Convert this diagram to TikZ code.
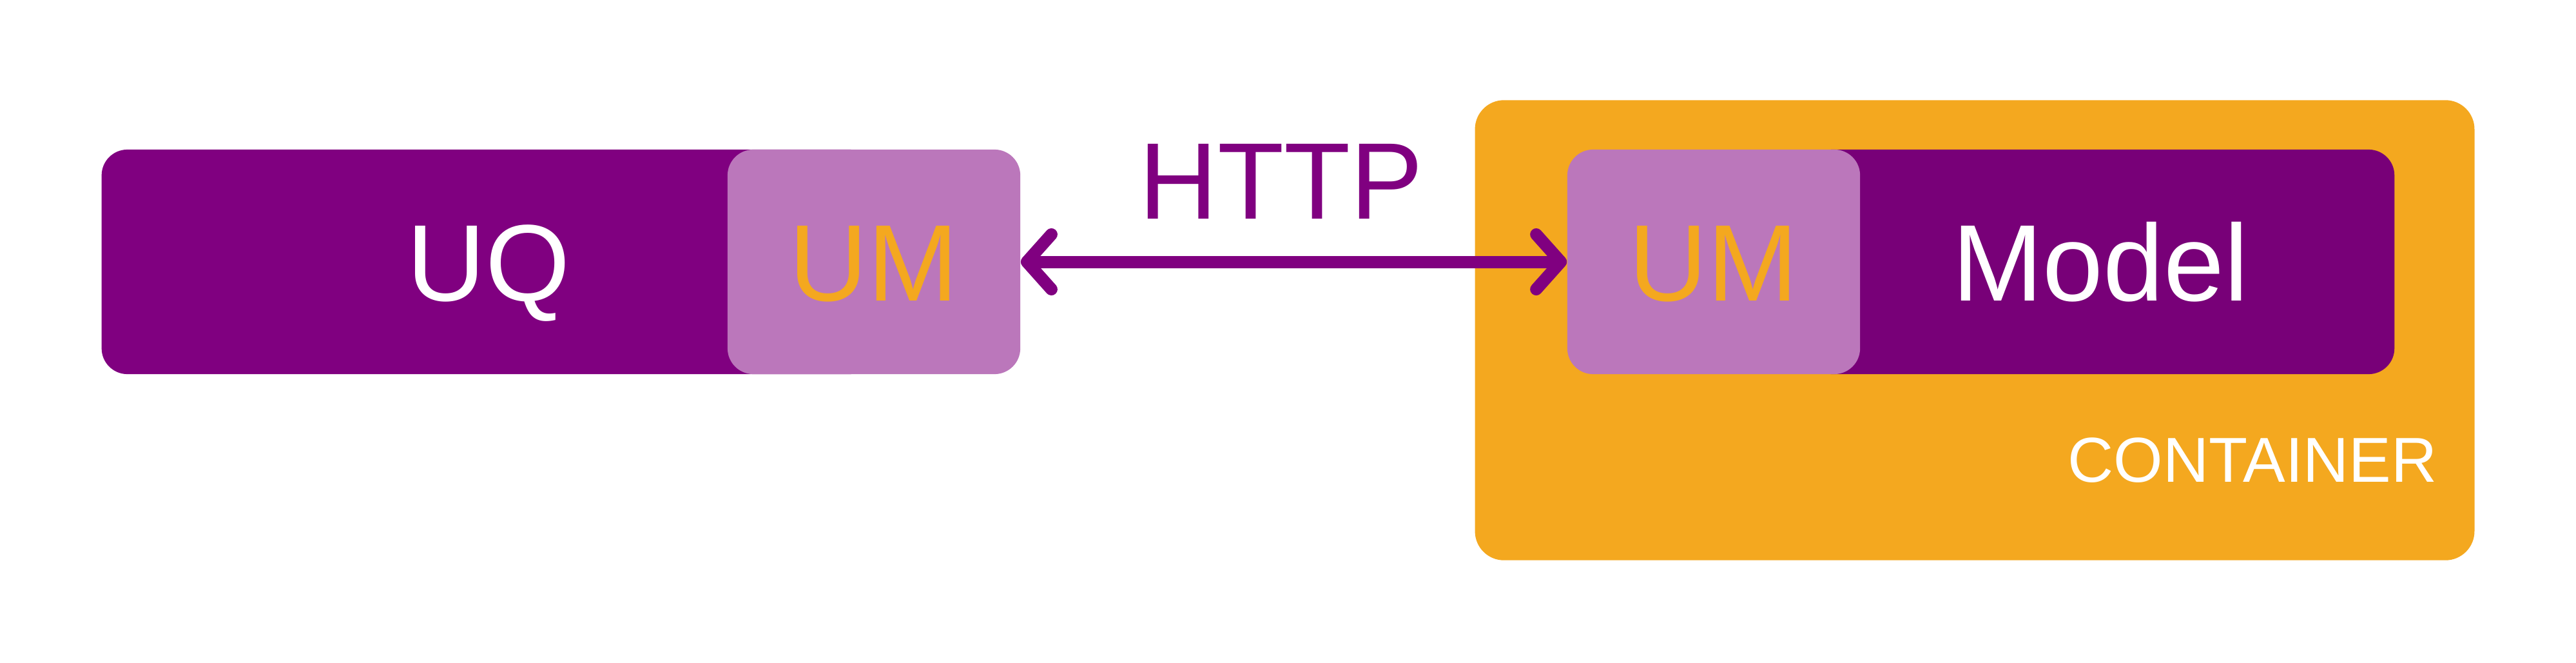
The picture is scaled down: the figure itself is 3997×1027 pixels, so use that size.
\documentclass[tikz,border=0pt]{standalone}
\usepackage{fontspec}
\setmainfont{Liberation Sans}
\usepackage[]{xcolor}
\usetikzlibrary{arrows.meta}

\definecolor{uqpurple}{HTML}{800080}
\definecolor{modelpurple}{HTML}{780078}
\definecolor{umlilac}{HTML}{BB77BB}
\definecolor{boxorange}{HTML}{F4A81F}

\begin{document}
\begin{tikzpicture}[x=.01cm,y=-.01cm,
        box/.style = {rounded corners=.4cm, inner sep=0pt, minimum height=3.48cm,
                      text height=1.2cm, text depth=0pt, font=\fontsize{48}{58}\selectfont},
        umbox/.style = {box, fill=umlilac, text=boxorange, minimum width=4.54cm},
        link/.style = {draw=uqpurple, line width=.19cm,
                       {Straight Barb[length=.38cm, width=.85cm, round]}-{Straight Barb[length=.38cm, width=.85cm, round]}}]
        \useasboundingbox (0,0) rectangle (3997,1027);
        \node[box, fill=uqpurple, text=white, minimum width=12cm] (uq) at (758,406) {UQ};
        \node[umbox] (umleft) at (1356,406) {UM};
        \node[rounded corners=.45cm, fill=boxorange, minimum width=15.5cm, minimum height=7.13cm] (container) at (3064,512) {};
        \node[box, fill=modelpurple, text=white, minimum width=9.12cm] (model) at (3259,406) {Model};
        \node[umbox] (umright) at (2659,406) {UM};
        \node[anchor=base east, inner sep=0pt, text=white, font=\fontsize{28}{34}\selectfont] (label) at (3782,747) {CONTAINER};
        \draw[link] (umleft.east) -- (umright.west);
        \node[inner sep=0pt, text height=1.2cm, text depth=0pt, text=uqpurple, font=\fontsize{48}{58}\selectfont] (http) at (1988,279) {HTTP};
\end{tikzpicture}
\end{document}
